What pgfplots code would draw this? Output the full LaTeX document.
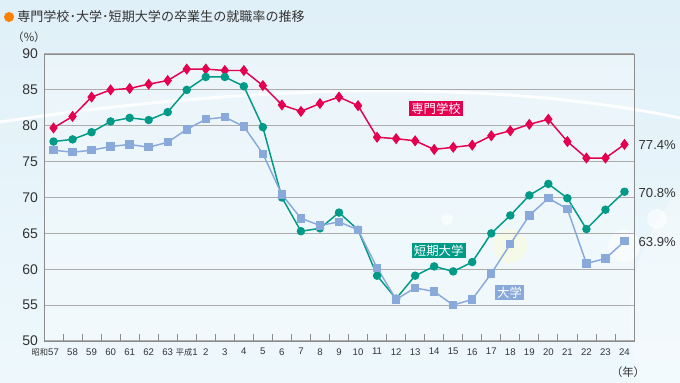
\documentclass[border=0pt]{standalone}
\usepackage{pgfplots}
\pgfplotsset{compat=1.18}
\usepackage{pgfplotstable}
\usepackage{fontspec}
\setmainfont{Liberation Sans}
\newfontfamily\cjk{Noto Sans CJK JP}
\definecolor{cred}{HTML}{E4004F}
\definecolor{cgreen}{HTML}{009A87}
\definecolor{cblue}{HTML}{8AA9DB}
\definecolor{bgA}{HTML}{E0F0F8}
\definecolor{bgB}{HTML}{EEF8FC}
\definecolor{ctitle}{HTML}{333333}

% x index: 0 = Showa 57 ... 6 = Showa 63, 7 = Heisei 1 ... 30 = Heisei 24
\pgfplotstableread{
x senmon tanki daigaku
0  79.7 77.8 76.6
1  81.3 78.1 76.3
2  84.0 79.1 76.6
3  85.0 80.6 77.1
4  85.2 81.1 77.4
5  85.8 80.8 77.0
6  86.3 81.9 77.7
7  87.9 85.0 79.5
8  87.9 86.8 80.9
9  87.7 86.8 81.2
10 87.7 85.5 79.9
11 85.6 79.8 76.1
12 82.9 70.0 70.4
13 82.0 65.3 67.1
14 83.1 65.7 66.1
15 84.0 67.9 66.6
16 82.8 65.5 65.5
17 78.4 59.1 60.2
18 78.2 55.9 55.8
19 77.9 59.1 57.4
20 76.7 60.4 56.9
21 77.0 59.7 55.0
22 77.3 61.0 55.8
23 78.6 65.0 59.4
24 79.3 67.5 63.5
25 80.2 70.3 67.5
26 80.9 71.9 69.9
27 77.8 69.9 68.4
28 75.5 65.6 60.8
29 75.5 68.3 61.5
30 77.4 70.8 63.9
}\datatable

\newcommand\jp[1]{{\cjk\fontsize{6.2}{8}\selectfont #1}}

\begin{document}
\begin{tikzpicture}[x=0.75pt,y=0.75pt]
\path[use as bounding box] (0,0) rectangle (680,382);
\shade[top color=bgA, bottom color=bgB] (0,0) rectangle (680,382);
% decorative elements
\fill[white, opacity=0.35] (830,60) circle (200);
\fill[white, opacity=0.6] (447,163) circle (6);
\fill[white, opacity=0.6] (657,163) circle (10);
\fill[white, opacity=0.5] (624,136) circle (16);
\fill[yellow!30, opacity=0.4] (510,136) circle (17);
\draw[white, line width=2.2pt, opacity=0.9] (0,260) .. controls (180,287) and (450,312) .. (680,264);
% title
\fill[orange] (9,365) circle (5);
\node[anchor=west, inner sep=0pt, text=ctitle] at (17,365) {\cjk\fontsize{9.8}{12}\selectfont 専門学校･大学･短期大学の卒業生の就職率の推移};
\node[text=ctitle, inner sep=0pt] at (29,345) {\cjk\fontsize{8.5}{10}\selectfont（\%）};
\node[text=ctitle, inner sep=0pt] at (628,10) {\cjk\fontsize{8.5}{10}\selectfont（年）};

\begin{axis}[
  at={(33pt,30.75pt)}, anchor=south west,
  scale only axis, width=442.5pt, height=215.25pt,
  xmin=-0.5, xmax=30.5, ymin=50, ymax=90,
  ytick={50,55,...,90},
  ymajorgrids, grid style={gray!65, line width=0.9pt},
  axis line style={gray!90, line width=0.6pt},
  axis background/.style={fill=white, fill opacity=0.3},
  xtick={0,...,30},
  xticklabels={\llap{\jp{昭和}}57,58,59,60,61,62,63,\jp{平成}1,2,3,4,5,6,7,8,9,10,11,12,13,14,15,16,17,18,19,20,21,22,23,24},
  minor xtick={0.5,1.5,...,29.5},
  major tick length=0pt,
  minor tick length=5pt,
  tick align=inside,
  xtick pos=bottom, ytick pos=left,
  minor x tick style={gray!90, line width=0.6pt},
  /pgf/number format/assume math mode=true,
  yticklabel style={font=\fontsize{10.5}{12}\selectfont, text=ctitle, xshift=-1pt},
  xticklabel style={font=\fontsize{7.2}{9}\selectfont, text=ctitle, yshift=-2pt},
  clip=false,
]
\addplot[cred, line width=1.1pt, mark=diamond*, mark size=3.3pt] table[x=x, y=senmon] {\datatable};
\addplot[cgreen, line width=1.1pt, mark=*, mark size=2.6pt] table[x=x, y=tanki] {\datatable};
\addplot[cblue, line width=1.1pt, mark=square*, mark size=2.6pt] table[x=x, y=daigaku] {\datatable};

\node[anchor=west, text=ctitle, font=\fontsize{9.8}{12}\selectfont] at (axis cs:30.5,77.3) {77.4\%};
\node[anchor=west, text=ctitle, font=\fontsize{9.8}{12}\selectfont] at (axis cs:30.5,70.6) {70.8\%};
\node[anchor=west, text=ctitle, font=\fontsize{9.8}{12}\selectfont] at (axis cs:30.5,63.8) {63.9\%};

\node[fill=cred, text=white, inner sep=1.5pt, font=\cjk\fontsize{9.3}{11}\selectfont] at (axis cs:20.1,82.4) {専門学校};
\node[fill=cgreen, text=white, inner sep=1.5pt, font=\cjk\fontsize{9.3}{11}\selectfont] at (axis cs:20.24,62.6) {短期大学};
\node[fill=cblue, text=white, inner sep=1.5pt, font=\cjk\fontsize{9.3}{11}\selectfont] at (axis cs:23.96,56.75) {大学};
\end{axis}
\end{tikzpicture}
\end{document}
